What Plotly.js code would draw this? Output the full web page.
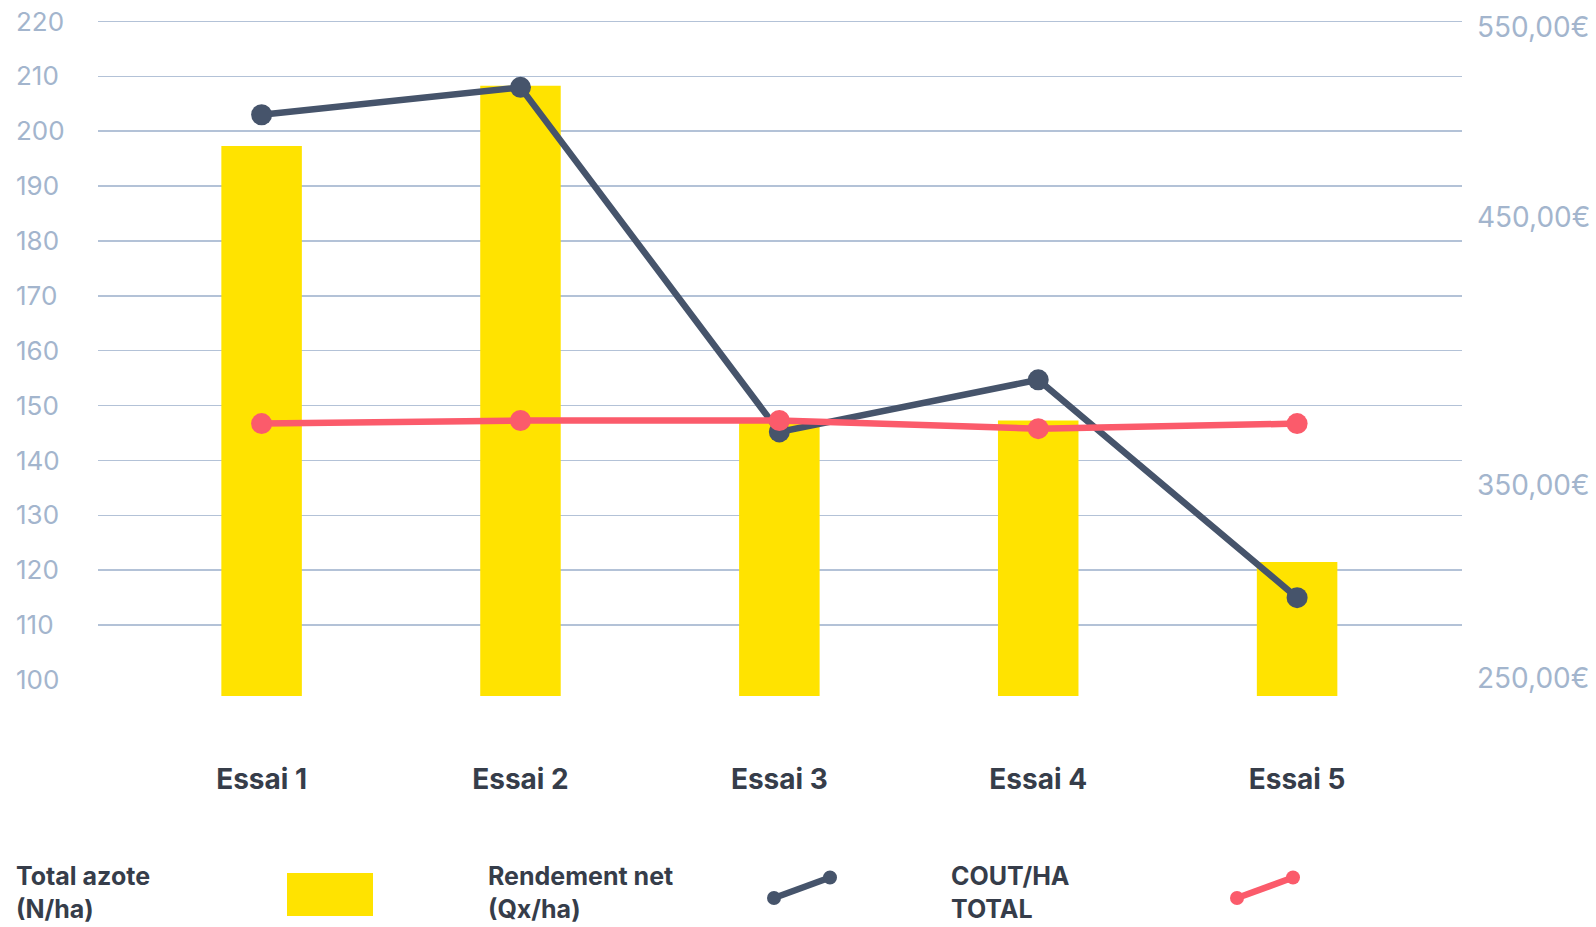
<!DOCTYPE html>
<html>
<head>
<meta charset="utf-8">
<script src="https://cdn.plot.ly/plotly-3.0.1.min.js"></script>
<style>html,body{margin:0;padding:0;background:#fff;}#chart{width:1596px;height:927px;}</style>
</head>
<body>
<div id="chart"></div>
<script>
// ---- data ----
const categories = ["Essai 1", "Essai 2", "Essai 3", "Essai 4", "Essai 5"];
const totalAzote = [197.3, 208.3, 147.3, 147.3, 121.5];      // N/ha (bars, left axis)
const rendementNet = [203.0, 208.0, 145.2, 154.7, 115.0];    // Qx/ha (left axis)
const coutHa = [366.8, 368.2, 368.2, 364.5, 366.8];          // € (right axis)
const leftTicks = [100, 110, 120, 130, 140, 150, 160, 170, 180, 190, 200, 210, 220];
const gridTicks = [110, 120, 130, 140, 150, 160, 170, 180, 190, 200, 210, 220];
const rightTickVals = [250.9, 338.8, 460.9, 547.5];
const rightTickText = ["250,00€", "350,00€", "450,00€", "550,00€"];
const legendNames = ["Total azote<br>(N/ha)", "Rendement net<br>(Qx/ha)", "COUT/HA<br>TOTAL"];

// ---- layout geometry ----
const W = 1596, H = 927;
const M = {l: 10, r: 134, t: 15, b: 231};
const PW = W - M.l - M.r, PH = H - M.t - M.b;
const px = x => (x - M.l) / PW;
const py = y => (H - M.b - y) / PH;

const leftRange = [97.08, 221.18];
const rightRange = leftRange.map(v => 250 + (v - 100) * 2.5);

const FONT = "Inter, 'Open Sans', sans-serif";
const DARK = "#46546b", RED = "#fb5b6b", YEL = "#ffe300", AXC = "#a3b5cd", TXT = "#363d4a";

const traces = [
  {type: "scatter", x: [categories[0]], y: [leftTicks[0]], yaxis: "y3", mode: "markers",
   marker: {opacity: 0}, hoverinfo: "skip", showlegend: false},
  {type: "bar", x: categories, y: totalAzote, name: "Total azote (N/ha)",
   marker: {color: YEL}, width: 0.311, yaxis: "y", hoverinfo: "skip"},
  {type: "scatter", mode: "lines+markers", x: categories, y: rendementNet, name: "Rendement net (Qx/ha)",
   line: {color: DARK, width: 6.5}, marker: {color: DARK, size: 21}, yaxis: "y"},
  {type: "scatter", mode: "lines+markers", x: categories, y: coutHa, name: "COUT/HA TOTAL",
   line: {color: RED, width: 6.5}, marker: {color: RED, size: 21}, yaxis: "y2"}
];

const shapes = [
  {type: "rect", xref: "paper", yref: "paper", x0: px(287), x1: px(373), y0: py(916), y1: py(873),
   fillcolor: YEL, line: {width: 0}},
];
function legLine(x0, y0, x1, y1, c) {
  shapes.push({type: "line", xref: "paper", yref: "paper", x0: px(x0), y0: py(y0), x1: px(x1), y1: py(y1),
    line: {color: c, width: 6.5}});
  [[x0, y0], [x1, y1]].forEach(([cx, cy]) => shapes.push({type: "circle", xref: "paper", yref: "paper",
    x0: px(cx - 7), x1: px(cx + 7), y0: py(cy + 7), y1: py(cy - 7), fillcolor: c, line: {width: 0}}));
}
legLine(774, 898, 830, 877.5, DARK);
legLine(1237, 898, 1293, 877.5, RED);

const legX = [14, 486, 949];
const annotations = legendNames.map((t, i) => ({
  text: t, xref: "paper", yref: "paper", x: px(legX[i]), y: py(892), xanchor: "left", yanchor: "middle",
  align: "left", showarrow: false, font: {family: FONT, size: 25, color: TXT, weight: 700}
}));

const layout = {
  width: W, height: H,
  margin: M,
  paper_bgcolor: "#fff", plot_bgcolor: "#fff",
  showlegend: false,
  font: {family: FONT},
  xaxis: {type: "category", domain: [px(98), 1], range: [-0.632, 4.637], showgrid: false, zeroline: false,
    showline: false, ticks: "", ticklabelstandoff: 64,
    tickfont: {family: FONT, size: 28, color: TXT, weight: 700}},
  yaxis: {range: leftRange, tickvals: gridTicks, showticklabels: false, showgrid: true, gridcolor: "#b3c2d7",
    gridwidth: 1.5, zeroline: false, showline: false, ticks: ""},
  yaxis2: {overlaying: "y", side: "right", anchor: "x", range: rightRange, tickvals: rightTickVals,
    ticktext: rightTickText, showgrid: false, zeroline: false, showline: false, ticks: "", ticklabelstandoff: 14,
    tickfont: {family: FONT, size: 28, color: AXC}},
  yaxis3: {overlaying: "y", anchor: "free", position: 0, side: "left", range: leftRange, tickvals: leftTicks,
    showgrid: false, zeroline: false, showline: false, ticks: "", ticklabelposition: "inside",
    ticklabeloverflow: "allow", ticklabelstandoff: 2,
    tickfont: {family: FONT, size: 26, color: AXC}},
  shapes: shapes,
  annotations: annotations
};

Plotly.newPlot("chart", traces, layout, {displayModeBar: false, staticPlot: true});
</script>
</body>
</html>
